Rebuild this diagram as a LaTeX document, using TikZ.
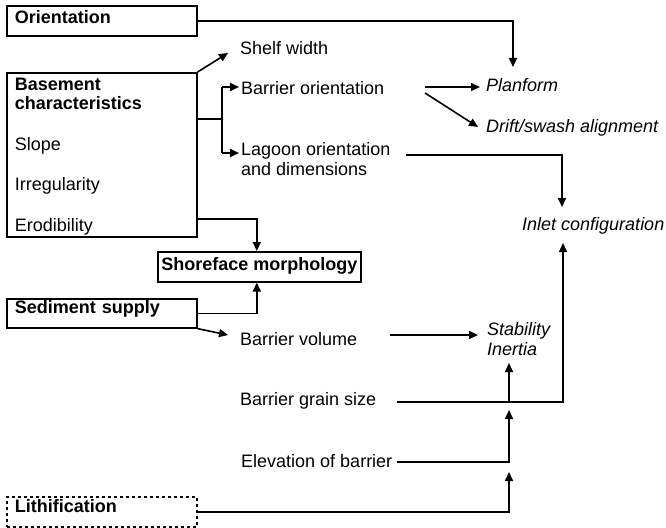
\documentclass[tikz,border=0pt]{standalone}
\usepackage{fontspec}
\setmainfont{Liberation Sans}
\usetikzlibrary{arrows.meta}
\begin{document}
\begin{tikzpicture}[x=1pt,y=-1pt,
  every node/.style={inner sep=0pt,font=\fontsize{18}{19}\selectfont},
  lbl/.style={anchor=base west},
  itl/.style={anchor=base west,font=\fontsize{18}{20}\selectfont\itshape},
  factor/.style={draw,line width=1.6pt,anchor=north west,inner xsep=8pt,inner ysep=0pt,
     text width=174pt,align=left,font=\fontsize{18}{19}\selectfont\bfseries},
  mainbox/.style={draw,line width=1.6pt,anchor=north west,inner xsep=3pt,inner ysep=0pt,
     minimum width=203pt,font=\fontsize{18}{19}\selectfont\bfseries},
  line/.style={line width=1.6pt},
  arr/.style={line width=1.6pt,-{Triangle[length=9pt,width=8pt]}}]
\useasboundingbox (0,0) rectangle (666,527);
% boxes
\node[factor,text height=18pt,text depth=12pt] (orient) at (6,5) {Orientation};
\node[factor,text height=18pt,text depth=146pt] (basement) at (6,72)
  {Basement\\characteristics\\[22pt]
   \mdseries Slope\\[21pt]\mdseries Irregularity\\[22pt]\mdseries Erodibility};
\node[factor,text height=15pt,text depth=14pt] (sediment) at (6,298) {Sediment supply};
\node[factor,dash pattern=on 3pt off 3pt,text height=16pt,text depth=14pt] (lith) at (6,496) {Lithification};
\node[mainbox,text height=19pt,text depth=11pt] (shore) at (157,251) {Shoreface morphology};
% plain texts
\node[lbl] (shelf) at (240,55) {Shelf width};
\node[lbl] (barrori) at (241,94) {Barrier orientation};
\node[lbl,align=left] (lagoon) at (241,175) {Lagoon orientation\\[1pt]and dimensions};
\node[lbl] (volume) at (240,345) {Barrier volume};
\node[lbl] (grain) at (240,405) {Barrier grain size};
\node[lbl] (elev) at (241,467) {Elevation of barrier};
\node[itl] (planform) at (486,92) {Planform};
\node[itl] (drift) at (486,132) {Drift/swash alignment};
\node[itl] (inlet) at (522,230) {Inlet configuration};
\node[itl,align=left] (stab) at (487,355) {Stability\\Inertia};
% coordinates
\coordinate (pfin) at (513,67);
\coordinate (shelfin) at (228,53);
\coordinate (br) at (222,119);
\coordinate (brtop) at (222,87);
\coordinate (brbot) at (222,153);
\coordinate (boin) at (239,87);
\coordinate (lgin) at (239,153);
\coordinate (boout1) at (425,87);
\coordinate (pfarr) at (480,87);
\coordinate (boout2) at (425,93);
\coordinate (drarr) at (478,127);
\coordinate (lgout) at (406,155);
\coordinate (inlettop) at (562,207);
\coordinate (inletbot) at (563,243);
\coordinate (volin) at (228,335);
\coordinate (volout) at (390,335);
\coordinate (stabin) at (478,335);
\coordinate (grout) at (397,402);
\coordinate (grcorner) at (563,402);
\coordinate (stabbot) at (509,363);
\coordinate (grjoin) at (509,402);
\coordinate (elout) at (397,462);
\coordinate (eltip) at (509,410);
\coordinate (lttip) at (509,472);
% connectors
\draw[arr] (orient.east) -| (pfin);
\draw[arr] (basement.north east) -- (shelfin);
\draw[line] (basement.east |- br) -- (br);
\draw[line] (brtop) -- (brbot);
\draw[arr] (brtop) -- (boin);
\draw[arr] (brbot) -- (lgin);
\draw[arr] (boout1) -- (pfarr);
\draw[arr] (boout2) -- (drarr);
\draw[arr] (lgout) -| (inlettop);
\draw[arr] (basement.east |- 0,219) -| ([xshift=-2.5pt]shore.north);
\draw[arr] (sediment.east) -| ([xshift=-2.5pt]shore.south);
\draw[arr] (sediment.south east) -- (volin);
\draw[arr] (volout) -- (stabin);
\draw[arr] (grout) -- (grcorner) -- (inletbot);
\draw[arr] (grjoin) -- (stabbot);
\draw[arr] (elout) -| (eltip);
\draw[arr] (lith.east) -| (lttip);
\end{tikzpicture}
\end{document}
